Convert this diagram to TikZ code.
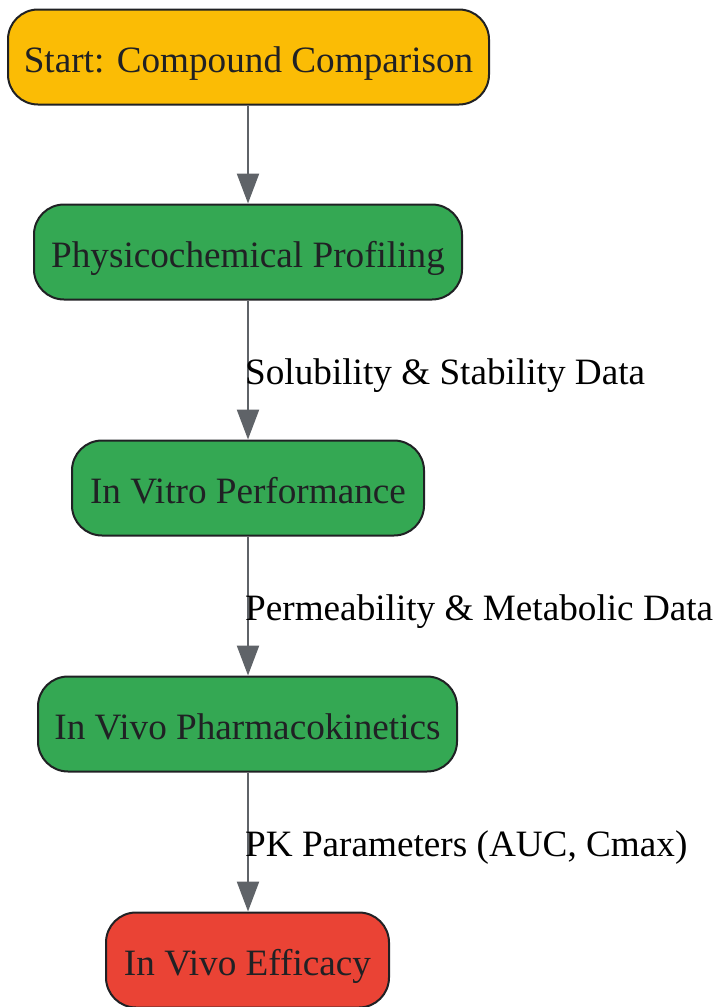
\documentclass[tikz,border=0pt]{standalone}
\usepackage{fontspec}
\setmainfont{Liberation Serif}
\usetikzlibrary{arrows.meta}
\definecolor{startc}{HTML}{FBBC05}
\definecolor{greenc}{HTML}{34A853}
\definecolor{redc}{HTML}{EA4335}
\definecolor{edgec}{HTML}{5F6368}
\definecolor{borderc}{HTML}{202124}
\definecolor{textc}{HTML}{202124}
\begin{document}
\begin{tikzpicture}[x=1pt,y=1pt,
  box/.style={draw=borderc, line width=2pt, rounded corners=30pt, inner sep=0pt,
    font=\fontsize{37.2}{44}\selectfont, text=textc, minimum height=95pt,
    text height=30pt, text depth=0pt},
  conn/.style={draw=edgec, line width=2.4pt, -{Triangle[length=30pt,width=22pt]}},
  lbl/.style={anchor=base west, font=\fontsize{37.2}{44}\selectfont, text=black, inner sep=0pt}
]
\useasboundingbox (0,0) rectangle (716,-1007);
\node[box, fill=startc, minimum width=481pt] (s) at (248.5,-57) {Start: Compound Comparison};
\node[box, fill=greenc, minimum width=428pt] (p) at (248,-252) {Physicochemical Profiling};
\node[box, fill=greenc, minimum width=352pt] (v) at (248,-488) {In Vitro Performance};
\node[box, fill=greenc, minimum width=419pt] (k) at (247.5,-724) {In Vivo Pharmacokinetics};
\node[box, fill=redc, minimum width=283pt] (e) at (247.5,-960) {In Vivo Efficacy};
\draw[conn] (s.south -| 248,0) -- (p.north -| 248,0);
\draw[conn] (p.south -| 248,0) -- (v.north -| 248,0);
\draw[conn] (v.south -| 248,0) -- (k.north -| 248,0);
\draw[conn] (k.south -| 248,0) -- (e.north -| 248,0);
\node[lbl] (l1) at (245,-384) {Solubility \& Stability Data};
\node[lbl] (l2) at (245,-620) {Permeability \& Metabolic Data};
\node[lbl] (l3) at (245,-856) {PK Parameters (AUC, Cmax)};
\end{tikzpicture}
\end{document}
